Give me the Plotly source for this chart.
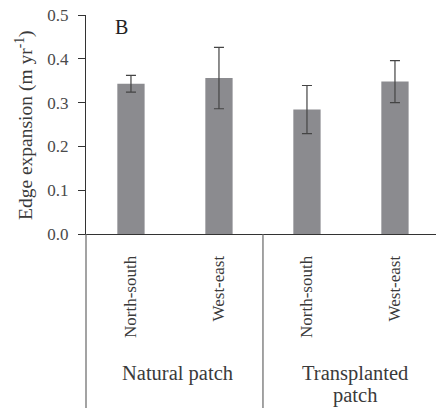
import plotly.graph_objects as go

categories = ["North-south", "West-east", "North-south", "West-east"]
groups = ["Natural patch", "Transplanted", "patch"]
values = [0.343, 0.356, 0.284, 0.348]
errors = [0.019, 0.070, 0.055, 0.048]
y_ticks = [0.0, 0.1, 0.2, 0.3, 0.4, 0.5]

FONT = "Liberation Serif"
TXT = "#3a3a3a"
W, H = 436, 408
ML, MT, MB = 86, 15, 174
pw = W - ML
ph = H - MT - MB

xs = list(range(len(categories)))
fig = go.Figure(go.Bar(
    x=xs, y=values, width=0.31,
    marker=dict(color="#8b8b8f", line=dict(width=0)),
    error_y=dict(type="data", array=errors, visible=True,
                 color="#444444", thickness=1.2, width=5),
))

x0 = -0.511
x1 = x0 + pw / 88.0

fig.update_layout(
    width=W, height=H,
    margin=dict(l=ML, r=0, t=MT, b=MB),
    plot_bgcolor="white", paper_bgcolor="white",
    showlegend=False,
    font=dict(family=FONT, color=TXT),
    xaxis=dict(range=[x0, x1], tickvals=xs, ticktext=categories,
               tickangle=-90, ticks="", showline=True, linecolor="#333333",
               linewidth=1, showgrid=False, zeroline=False,
               tickfont=dict(size=17, family=FONT, color=TXT),
               ticklabelstandoff=14),
    yaxis=dict(range=[0, 0.5], tickvals=y_ticks, tickformat=".1f",
               ticks="outside", ticklen=7, tickcolor="#333333",
               showline=True, linecolor="#333333", linewidth=1.2,
               showgrid=False, zeroline=False, ticklabelstandoff=6,
               tickfont=dict(size=17, family=FONT, color="#4a4a4a")),
)

def py(pix):
    return (H - MB - pix) / ph

def px(pix):
    return (pix - ML) / pw

# y-axis title
fig.add_annotation(text="Edge expansion (m yr<sup>-1</sup>)", textangle=-90,
                   xref="paper", yref="paper", x=px(24), y=py(125),
                   showarrow=False, font=dict(size=19.5, family=FONT, color=TXT),
                   xanchor="center", yanchor="middle")
# panel label
fig.add_annotation(text="B", xref="paper", yref="paper", x=px(121), y=py(27),
                   showarrow=False, font=dict(size=20, family=FONT, color="#222222"),
                   xanchor="center", yanchor="middle")
# group labels
fig.add_annotation(text=groups[0], xref="x", yref="paper", x=0.53, y=py(373),
                   showarrow=False, font=dict(size=20.5, family=FONT, color=TXT),
                   xanchor="center", yanchor="middle")
fig.add_annotation(text=groups[1], xref="x", yref="paper", x=2.55, y=py(373),
                   showarrow=False, font=dict(size=20.5, family=FONT, color=TXT),
                   xanchor="center", yanchor="middle")
fig.add_annotation(text=groups[2], xref="x", yref="paper", x=2.55, y=py(395),
                   showarrow=False, font=dict(size=20.5, family=FONT, color=TXT),
                   xanchor="center", yanchor="middle")

# separators below the axis
fig.add_shape(type="line", xref="x", yref="paper", x0=1.5, x1=1.5,
              y0=0, y1=py(H + 2), line=dict(color="#666666", width=1.2))
fig.add_shape(type="line", xref="paper", yref="paper", x0=0, x1=0,
              y0=0, y1=py(H + 2), line=dict(color="#666666", width=1.2))

fig.write_html("out.html")
